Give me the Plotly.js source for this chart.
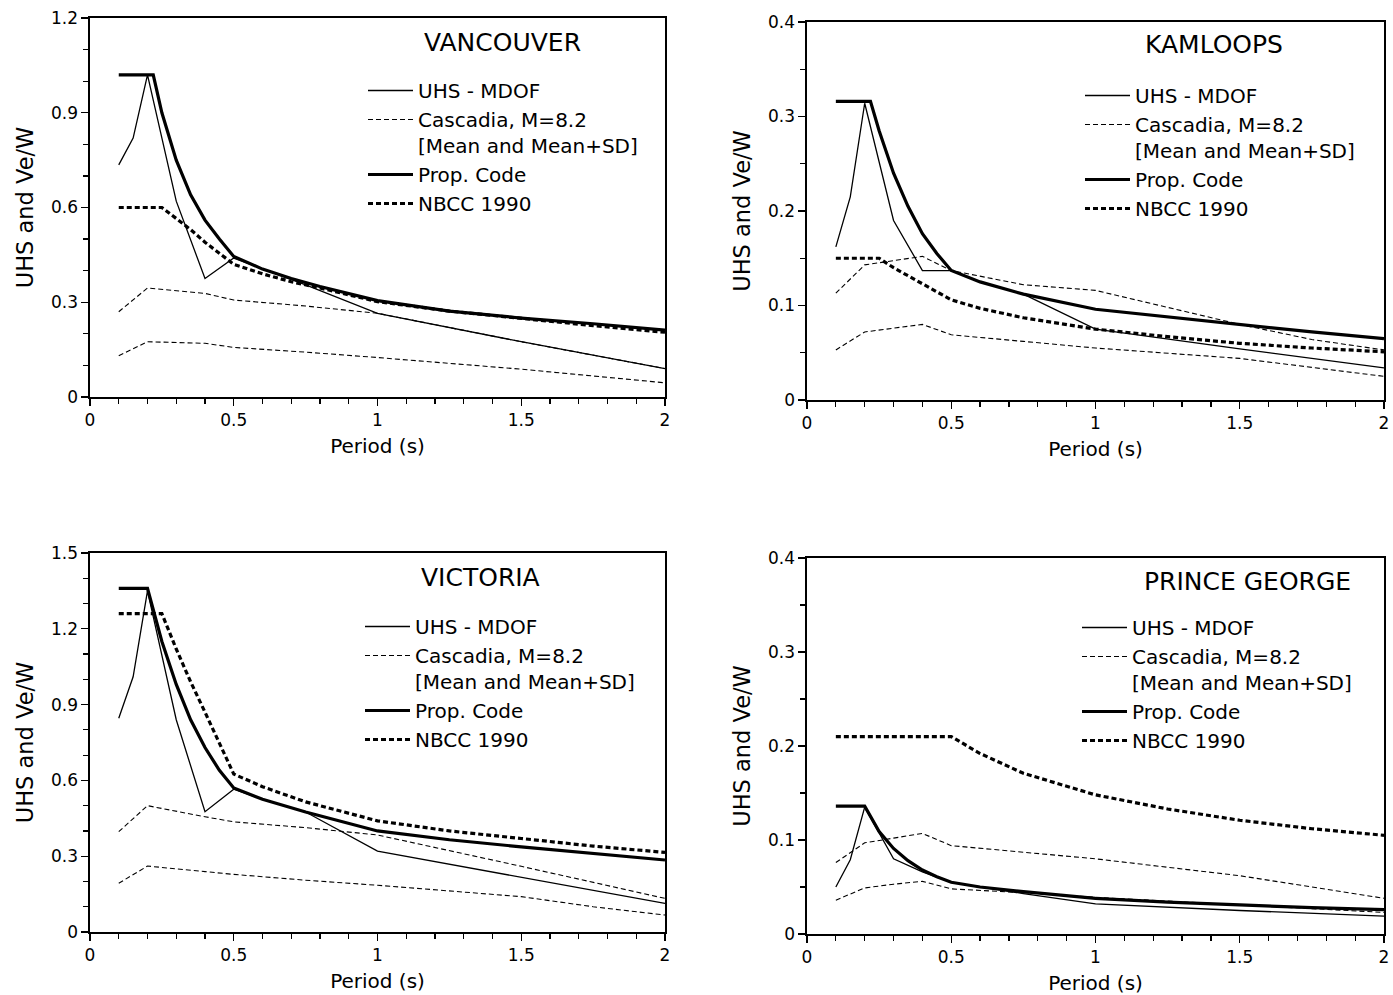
<!DOCTYPE html>
<html>
<head>
<meta charset="utf-8">
<script src="https://cdn.plot.ly/plotly-3.0.1.min.js"></script>
<style>
html,body{margin:0;padding:0;background:#fff;}
#chart{width:1393px;height:995px;}
</style>
</head>
<body>
<div id="chart"></div>
<script>
// ---------------- DATA ----------------
// Vancouver
const van_uhs_T = [0.1,0.15,0.2,0.3,0.4,0.5,0.75,1.0,1.5,2.0];
const van_uhs   = [0.735,0.82,1.02,0.62,0.375,0.44,0.355,0.265,0.175,0.09];
const van_casU_T = [0.1,0.2,0.4,0.5,0.75,1.0,1.5,2.0];
const van_casU   = [0.27,0.345,0.328,0.307,0.288,0.265,0.175,0.09];
const van_casM_T = [0.1,0.2,0.4,0.5,0.75,1.0,1.5,2.0];
const van_casM   = [0.131,0.175,0.17,0.157,0.142,0.125,0.088,0.045];
const van_prop_T = [0.1,0.22,0.25,0.3,0.35,0.4,0.45,0.5,0.6,0.7,0.8,1.0,1.25,1.5,1.75,2.0];
const van_prop   = [1.02,1.02,0.9,0.75,0.64,0.56,0.5,0.445,0.405,0.375,0.35,0.305,0.272,0.25,0.232,0.212];
const van_nbcc_T = [0.1,0.25,0.3,0.35,0.4,0.5,0.6,0.7,0.8,1.0,1.25,1.5,1.75,2.0];
const van_nbcc   = [0.6,0.6,0.565,0.53,0.49,0.42,0.39,0.365,0.345,0.302,0.272,0.248,0.226,0.205];

// Kamloops
const kam_uhs_T = [0.1,0.15,0.2,0.3,0.4,0.5,0.6,0.75,1.0,1.5,2.0];
const kam_uhs   = [0.162,0.215,0.314,0.19,0.137,0.137,0.125,0.112,0.075,0.054,0.034];
const kam_casU_T = [0.1,0.2,0.4,0.5,0.75,1.0,1.25,1.5,1.75,2.0];
const kam_casU   = [0.113,0.143,0.152,0.137,0.122,0.116,0.098,0.08,0.064,0.053];
const kam_casM_T = [0.1,0.2,0.4,0.5,0.75,1.0,1.5,2.0];
const kam_casM   = [0.053,0.072,0.080,0.069,0.062,0.055,0.044,0.025];
const kam_prop_T = [0.1,0.22,0.25,0.3,0.35,0.4,0.45,0.5,0.6,0.75,1.0,1.25,1.5,1.75,2.0];
const kam_prop   = [0.316,0.316,0.285,0.24,0.205,0.176,0.155,0.137,0.125,0.112,0.096,0.088,0.08,0.072,0.065];
const kam_nbcc_T = [0.1,0.25,0.3,0.4,0.5,0.6,0.75,1.0,1.25,1.5,1.75,2.0];
const kam_nbcc   = [0.15,0.15,0.14,0.123,0.106,0.097,0.087,0.075,0.067,0.06,0.055,0.051];

// Victoria
const vic_uhs_T = [0.1,0.15,0.2,0.3,0.4,0.5,0.6,0.75,1.0,1.5,2.0];
const vic_uhs   = [0.846,1.01,1.35,0.84,0.476,0.565,0.525,0.475,0.32,0.217,0.113];
const vic_casU_T = [0.1,0.2,0.4,0.5,0.75,1.0,1.5,2.0];
const vic_casU   = [0.397,0.5,0.456,0.436,0.413,0.384,0.26,0.133];
const vic_casM_T = [0.1,0.2,0.4,0.5,0.75,1.0,1.5,1.75,2.0];
const vic_casM   = [0.193,0.261,0.239,0.228,0.205,0.185,0.14,0.10,0.067];
const vic_prop_T = [0.1,0.2,0.25,0.3,0.35,0.4,0.45,0.5,0.6,0.75,1.0,1.25,1.5,1.75,2.0];
const vic_prop   = [1.36,1.36,1.15,0.98,0.84,0.73,0.64,0.57,0.525,0.475,0.40,0.365,0.337,0.31,0.285];
const vic_nbcc_T = [0.1,0.25,0.3,0.35,0.4,0.45,0.5,0.6,0.75,1.0,1.25,1.5,1.75,2.0];
const vic_nbcc   = [1.26,1.26,1.12,0.99,0.87,0.75,0.625,0.575,0.515,0.44,0.40,0.37,0.34,0.315];

// Prince George
const pg_uhs_T = [0.1,0.15,0.2,0.3,0.4,0.5,0.75,1.0,1.5,2.0];
const pg_uhs   = [0.05,0.079,0.135,0.08,0.066,0.055,0.043,0.032,0.025,0.019];
const pg_casU_T = [0.1,0.2,0.3,0.4,0.5,0.75,1.0,1.5,2.0];
const pg_casU   = [0.076,0.097,0.102,0.107,0.094,0.087,0.08,0.062,0.038];
const pg_casM_T = [0.1,0.2,0.3,0.4,0.5,0.75,1.0,1.5,2.0];
const pg_casM   = [0.036,0.049,0.053,0.056,0.048,0.044,0.039,0.031,0.023];
const pg_prop_T = [0.1,0.2,0.25,0.3,0.35,0.4,0.45,0.5,0.6,0.75,1.0,1.25,1.5,1.75,2.0];
const pg_prop   = [0.136,0.136,0.109,0.091,0.078,0.068,0.061,0.055,0.05,0.045,0.038,0.034,0.031,0.028,0.026];
const pg_nbcc_T = [0.1,0.5,0.6,0.75,1.0,1.25,1.5,1.75,2.0];
const pg_nbcc   = [0.21,0.21,0.192,0.171,0.148,0.133,0.121,0.112,0.105];

// Text
const cityNames = ['VANCOUVER','KAMLOOPS','VICTORIA','PRINCE GEORGE'];
const seriesNames = ['UHS - MDOF','Cascadia, M=8.2<br>[Mean and Mean+SD]','Prop. Code','NBCC 1990'];
const xTitle = 'Period (s)';
const yTitle = 'UHS and Ve/W';
const xTickVals = [0,0.5,1,1.5,2];

// ---------------- BUILD ----------------
const FONT = 'DejaVu Sans, Liberation Sans, Arial, sans-serif';
const styles = {
  uhs:  {color:'#000', width:1.3, dash:'solid'},
  cas:  {color:'#000', width:1.1, dash:'5px,3px'},
  prop: {color:'#000', width:3.2, dash:'solid'},
  nbcc: {color:'#000', width:3.2, dash:'5px,3px'}
};

const panels = [
  {d:[[van_uhs_T,van_uhs],[van_casU_T,van_casU],[van_casM_T,van_casM],[van_prop_T,van_prop],[van_nbcc_T,van_nbcc]]},
  {d:[[kam_uhs_T,kam_uhs],[kam_casU_T,kam_casU],[kam_casM_T,kam_casM],[kam_prop_T,kam_prop],[kam_nbcc_T,kam_nbcc]]},
  {d:[[vic_uhs_T,vic_uhs],[vic_casU_T,vic_casU],[vic_casM_T,vic_casM],[vic_prop_T,vic_prop],[vic_nbcc_T,vic_nbcc]]},
  {d:[[pg_uhs_T,pg_uhs],[pg_casU_T,pg_casU],[pg_casM_T,pg_casM],[pg_prop_T,pg_prop],[pg_nbcc_T,pg_nbcc]]}
];
const W = 1393, H = 995;
const px = v => v / W;
const py = v => 1 - v / H;

// plot area boxes in pixels [left, right, top, bottom]
const boxes = [[90,665,18,397],[807,1384,22,400],[90,665,553,932],[807,1384,558,934]];
const yRanges = [[0,1.2],[0,0.4],[0,1.5],[0,0.4]];
const yDticks = [0.3,0.1,0.3,0.1];
const yMinor = [0.1,0.05,0.1,0.05];
const titlePos = [[503,42],[1214,45],[480,577],[1247,581]];
const legendPos = [[363,71],[1080,76],[360,607],[1077,608]];

const traces = [];
const layout = {
  width: W, height: H,
  margin: {l:0, r:0, t:0, b:0},
  paper_bgcolor: '#fff', plot_bgcolor: '#fff',
  showlegend: true,
  font: {family: FONT, color: '#000', size: 17},
  annotations: []
};

panels.forEach((p, i) => {
  const n = i + 1;
  const xa = n === 1 ? 'x' : 'x' + n;
  const ya = n === 1 ? 'y' : 'y' + n;
  const lg = n === 1 ? 'legend' : 'legend' + n;
  const keys = ['uhs','cas','cas','prop','nbcc'];
  const names = [seriesNames[0], seriesNames[1], seriesNames[1], seriesNames[2], seriesNames[3]];
  const show = [true, true, false, true, true];
  p.d.forEach((s, k) => {
    traces.push({
      type: 'scatter', mode: 'lines',
      x: s[0], y: s[1],
      xaxis: xa, yaxis: ya,
      name: names[k], legend: lg, showlegend: show[k],
      legendgroup: 'g' + n + '_' + k,
      line: Object.assign({shape:'linear'}, styles[keys[k]]),
      hoverinfo: 'x+y'
    });
  });
  const b = boxes[i];
  const common = {
    showline: true, mirror: true, linecolor: '#000', linewidth: 1.6,
    showgrid: false, zeroline: false,
    ticks: 'outside', ticklen: 7, tickwidth: 1.4, tickcolor: '#000',
    tickfont: {family: FONT, size: 17, color: '#000'},
    automargin: false
  };
  layout['xaxis' + (n === 1 ? '' : n)] = Object.assign({}, common, {
    domain: [px(b[0]), px(b[1])], anchor: ya,
    range: [0, 2], tickvals: xTickVals, ticktext: xTickVals.map(String),
    minor: {dtick: 0.1, ticklen: 5, tickwidth: 1.2, tickcolor: '#000', ticks: 'outside', showgrid: false},
    title: {text: xTitle, font: {family: FONT, size: 20, color: '#000'}, standoff: 10}
  });
  layout['yaxis' + (n === 1 ? '' : n)] = Object.assign({}, common, {
    domain: [py(b[3]), py(b[2])], anchor: xa,
    range: yRanges[i], dtick: yDticks[i], tick0: 0,
    minor: {dtick: yMinor[i], ticklen: 5, tickwidth: 1.2, tickcolor: '#000', ticks: 'outside', showgrid: false},
    title: {text: yTitle, font: {family: FONT, size: 22.5, color: '#000'}, standoff: 11}
  });
  layout[lg] = {
    x: px(legendPos[i][0]), y: py(legendPos[i][1]),
    xref: 'paper', yref: 'paper',
    xanchor: 'left', yanchor: 'top',
    bgcolor: 'rgba(0,0,0,0)', borderwidth: 0,
    font: {family: FONT, size: 20, color: '#000'},
    itemwidth: 45, valign: 'top', traceorder: 'normal',
    tracegroupgap: 0
  };
  layout.annotations.push({
    xref: 'paper', yref: 'paper',
    x: px(titlePos[i][0]), y: py(titlePos[i][1]),
    xanchor: 'center', yanchor: 'middle',
    text: cityNames[i], showarrow: false,
    font: {family: FONT, size: 25, color: '#000'}
  });
});

Plotly.newPlot('chart', traces, layout, {staticPlot: true, displayModeBar: false});
</script>
</body>
</html>
